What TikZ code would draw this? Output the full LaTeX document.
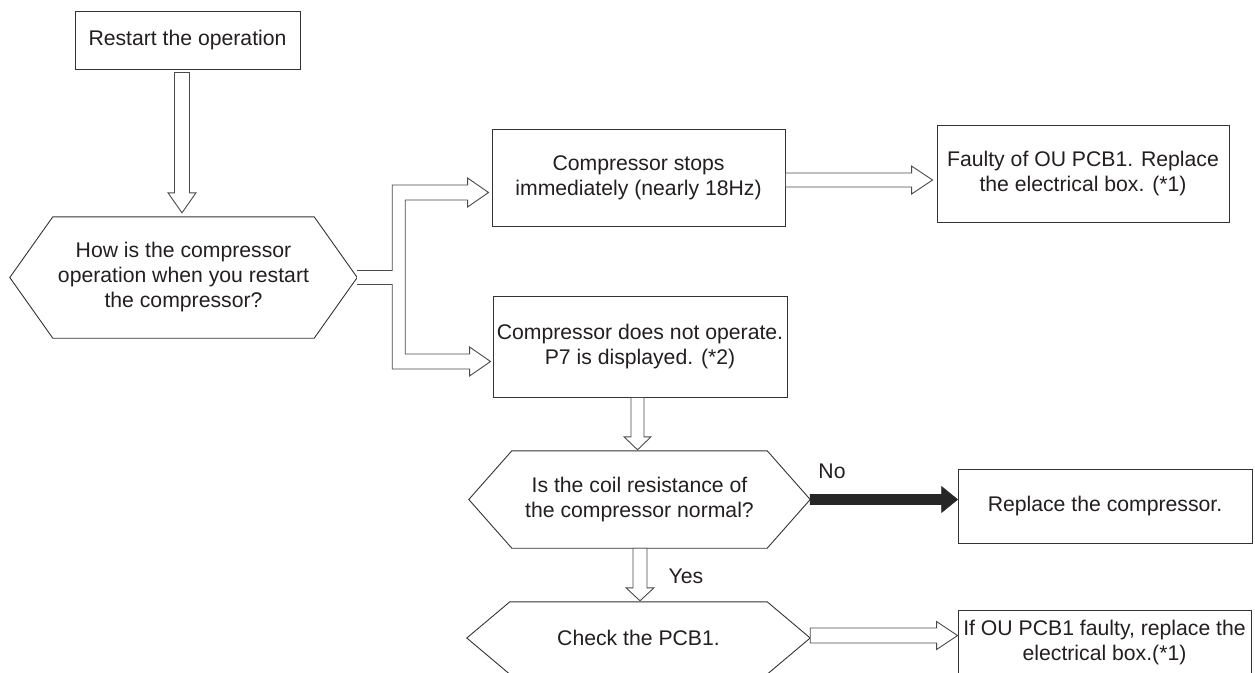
\documentclass[tikz,border=0pt]{standalone}
\usepackage{fontspec}
\setmainfont{Liberation Sans}
\usetikzlibrary{calc}
\definecolor{inkc}{HTML}{231F20}
\definecolor{framec}{HTML}{333333}
\definecolor{arrowc}{HTML}{4A4A4A}

% Horizontal block arrow: style, from, to, shaft half-width, head half-width, head length
\newcommand{\hblock}[6]{%
  \draw[#1] let \p1=(#2), \p2=(#3) in
    (\x1,\y1+#4) -- (\x2-#6,\y1+#4) -- (\x2-#6,\y1+#5) -- (\x2,\y1)
    -- (\x2-#6,\y1-#5) -- (\x2-#6,\y1-#4) -- (\x1,\y1-#4) -- cycle;}
% Vertical (downward) block arrow: style, from, to, shaft half-width, head half-width, head length
\newcommand{\vblock}[6]{%
  \draw[#1] let \p1=(#2), \p2=(#3) in
    (\x1-#4,\y1) -- (\x1-#4,\y2+#6) -- (\x1-#5,\y2+#6) -- (\x1,\y2)
    -- (\x1+#5,\y2+#6) -- (\x1+#4,\y2+#6) -- (\x1+#4,\y1) -- cycle;}
% Hexagonal decision outline around a node
\newcommand{\hexframe}[2]{%
  \draw[frame] (#1.west) -- ([xshift=#2]#1.north west) -- ([xshift=-#2]#1.north east)
    -- (#1.east) -- ([xshift=-#2]#1.south east) -- ([xshift=#2]#1.south west) -- cycle;}

\begin{document}
\begin{tikzpicture}[x=1pt,y=-1pt,
  every node/.style={font=\fontsize{21.2}{25}\selectfont, text=inkc, align=center, inner sep=0pt},
  frame/.style={draw=framec, line width=0.9pt, line join=miter},
  stepbox/.style={frame, fill=white, rectangle},
  decision/.style={rectangle},
  hollow/.style={draw=arrowc, fill=white, line width=0.9pt, line join=miter},
  solidarrow/.style={draw=black!85, fill=black!85, line width=0.6pt, line join=miter},
]
\useasboundingbox (0,0) rectangle (1255,672);
\clip (0,0) rectangle (1255,672);

% process boxes
\node[stepbox, minimum width=225pt, minimum height=58pt] (start) at (187.5,40) {Restart the operation};
\node[stepbox, minimum width=293pt, minimum height=97pt] (stop) at (638.5,177.5)
  {Compressor stops\\immediately (nearly 18Hz)};
\node[stepbox, minimum width=294pt, minimum height=101pt] (p7) at (640,346.5)
  {Compressor does not operate.\\P7 is displayed. (*2)};
\node[stepbox, minimum width=292pt, minimum height=97pt] (faulty) at (1083,173.5)
  {Faulty of OU PCB1. Replace\\the electrical box. (*1)};
\node[stepbox, minimum width=294pt, minimum height=74pt] (repcomp) at (1105,506)
  {Replace the compressor.};
\node[stepbox, minimum width=293pt, minimum height=66pt] (ifou) at (1104.5,643)
  {If OU PCB1 faulty, replace the\\electrical box.(*1)};

% decisions
\node[decision, minimum width=347pt, minimum height=121pt] (q1) at (183.5,277.5)
  {How is the compressor\\operation when you restart\\the compressor?};
\node[decision, minimum width=341pt, minimum height=97pt] (q2) at (639.5,499.5)
  {Is the coil resistance of\\the compressor normal?};
\node[decision, minimum width=343pt, minimum height=72pt] (q3) at (638.5,638)
  {Check the PCB1.};
\hexframe{q1}{43pt}
\hexframe{q2}{43pt}
\hexframe{q3}{43pt}

% connectors
\vblock{hollow}{[xshift=-5.5pt,yshift=-3pt]start.south}{[yshift=4pt]q1.north}{7.5pt}{14pt}{20pt}
\vblock{hollow}{[xshift=-2.5pt]p7.south}{[yshift=1pt]q2.north}{6.5pt}{13.5pt}{13pt}
\vblock{hollow}{[xshift=0.5pt]q2.south}{[yshift=1pt]q3.north}{7pt}{14pt}{13pt}

% branching connector from the first decision to both outcomes
\draw[hollow] let \p0=(q1.east), \p1=([xshift=-3pt,yshift=-15pt]stop.west),
                  \p2=([xshift=-2pt,yshift=-15pt]p7.west) in
  (\x0,\y0+7pt) -- (\x0+35pt,\y0+7pt) -- (\x0+35pt,\y1+7.5pt)
  -- (\x1-21pt,\y1+7.5pt) -- (\x1-21pt,\y1+14.5pt) -- (\x1,\y1)
  -- (\x1-21pt,\y1-14.5pt) -- (\x1-21pt,\y1-7.5pt) -- (\x0+48pt,\y1-7.5pt)
  -- (\x0+48pt,\y2+7.5pt) -- (\x2-21pt,\y2+7.5pt) -- (\x2-21pt,\y2+14.5pt)
  -- (\x2,\y2) -- (\x2-21pt,\y2-14.5pt) -- (\x2-21pt,\y2-7.5pt)
  -- (\x0+35pt,\y2-7.5pt) -- (\x0+35pt,\y0-7pt) -- (\x0,\y0-7pt);

\hblock{hollow}{[yshift=-2.5pt]stop.east}{[xshift=-4pt]faulty.west}{7pt}{14pt}{21pt}
\hblock{hollow}{[yshift=2.5pt]q3.east}{ifou.west}{7.5pt}{14pt}{21pt}
\hblock{solidarrow}{q2.east}{repcomp.west}{5pt}{13pt}{16pt}

% branch labels
\node (nolabel) at (832,471) {No};
\node (yeslabel) at (686,576) {Yes};
\end{tikzpicture}
\end{document}
